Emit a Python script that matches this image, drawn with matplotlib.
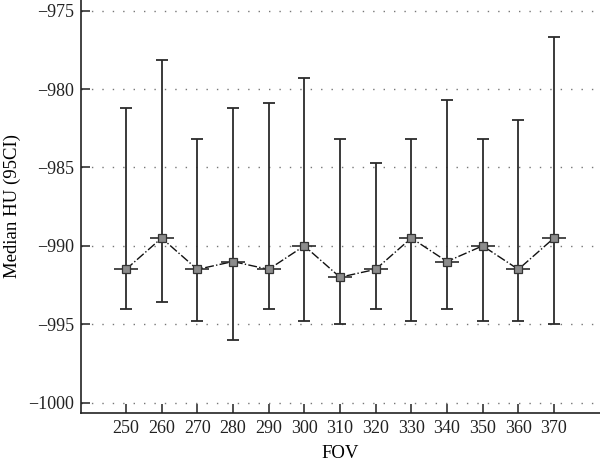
import matplotlib

matplotlib.use("Agg")
import matplotlib.pyplot as plt

fov = [250, 260, 270, 280, 290, 300, 310, 320, 330, 340, 350, 360, 370]
median_hu = [-991.5, -989.5, -991.5, -991.0, -991.5, -990.0, -992.0,
             -991.5, -989.5, -991.0, -990.0, -991.5, -989.5]
ci_upper = [-981.2, -978.15, -983.2, -981.2, -980.9, -979.3, -983.2,
            -984.7, -983.2, -980.7, -983.2, -982.0, -976.7]
ci_lower = [-994.0, -993.6, -994.8, -996.0, -994.0, -994.8, -995.0,
            -994.0, -994.8, -994.0, -994.8, -994.8, -995.0]
y_ticks = [-1000, -995, -990, -985, -980, -975]

plt.rcParams["font.family"] = ["Liberation Serif", "DejaVu Serif"]

fig = plt.figure(figsize=(6.0, 4.66), dpi=100)
ax = fig.add_axes([0.135, 0.1144, 0.865, 0.8856])

err_lo = [m - lo for m, lo in zip(median_hu, ci_lower)]
err_hi = [hi - m for m, hi in zip(median_hu, ci_upper)]
ax.errorbar(fov, median_hu, yerr=[err_lo, err_hi], fmt="none",
            ecolor="#2b2b2b", elinewidth=1.3, capsize=4.6, capthick=1.3, zorder=3)
ax.plot(fov, median_hu, linestyle="-.", color="#111111", linewidth=1.0, zorder=4)
ax.plot(fov, median_hu, linestyle="none", marker="_", markersize=17,
        markeredgewidth=1.2, color="#2b2b2b", zorder=4)
ax.plot(fov, median_hu, linestyle="none", marker="s", markersize=5.5,
        markerfacecolor="#8c8c8c", markeredgecolor="#333333",
        markeredgewidth=0.9, zorder=5)

ax.set_xlim(237.4, 382.9)
ax.set_ylim(-1000.64, -974.32)
ax.set_xticks(fov)
ax.set_yticks(y_ticks)
ax.set_yticklabels(["\u22121000", "\u2212995", "\u2212990", "\u2212985",
                    "\u2212980", "\u2212975"])
ax.yaxis.grid(True, linestyle=(0, (1, 6.5)), color="#777777", linewidth=1.0)
ax.set_axisbelow(True)

for side in ("top", "right"):
    ax.spines[side].set_visible(False)
for side in ("left", "bottom"):
    ax.spines[side].set_linewidth(1.2)
    ax.spines[side].set_color("#222222")

ax.tick_params(direction="in", length=6.5, width=1.1, colors="#222222",
               labelsize=13, pad=5)
ax.set_xlabel("FOV", fontsize=13.5, labelpad=6)
ax.set_ylabel("Median HU (95CI)", fontsize=13.5, labelpad=5)

fig.savefig("out.png", dpi=100)
plt.close(fig)
